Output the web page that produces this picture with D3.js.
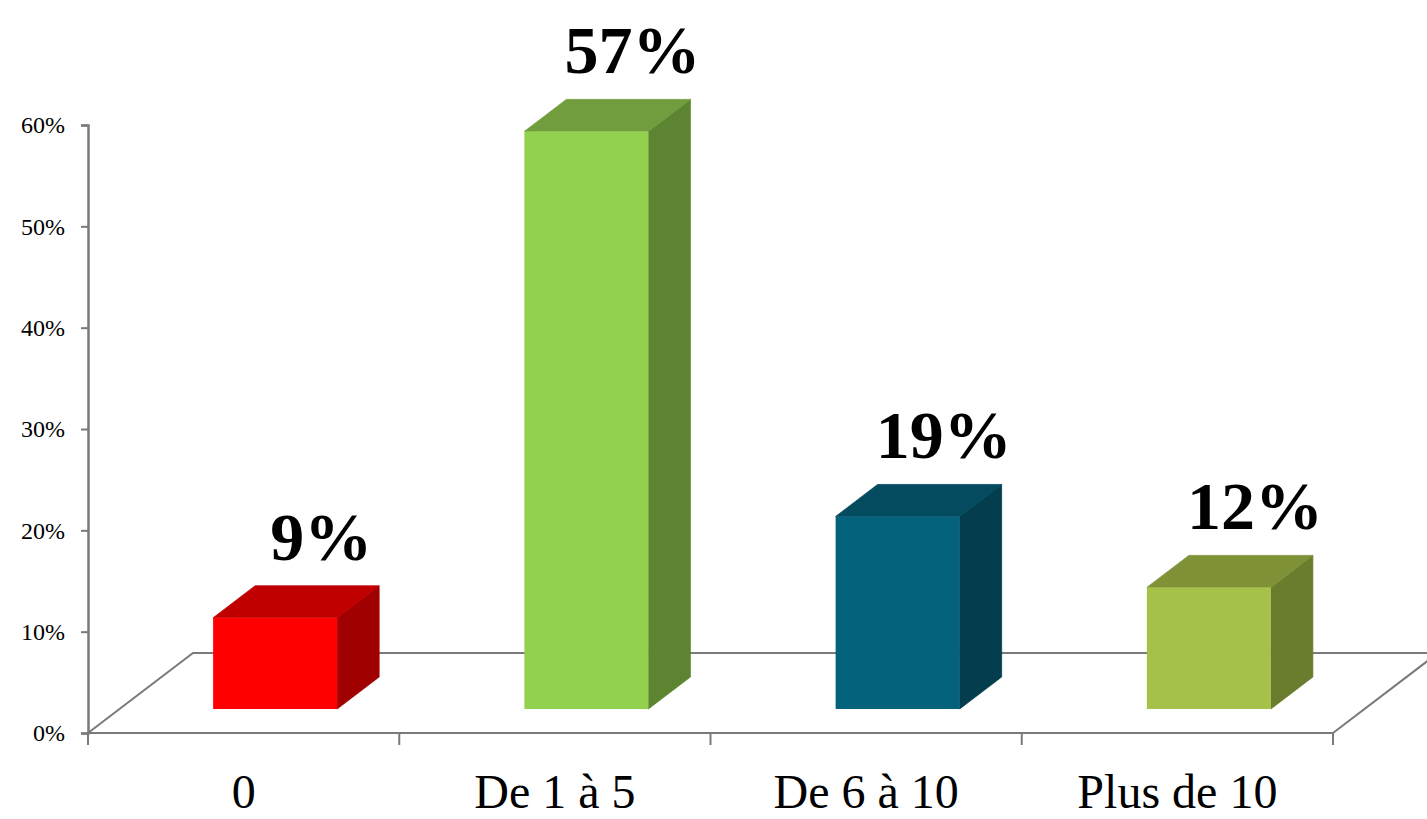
<!DOCTYPE html>
<html>
<head>
<meta charset="utf-8">
<script src="https://cdn.jsdelivr.net/npm/d3@7"></script>
<style>
  html, body { margin: 0; padding: 0; background: #fff; }
  svg { display: block; }
  text { font-family: "Liberation Serif", "Times New Roman", serif; fill: #000; }
</style>
</head>
<body>
<svg id="chart" width="1427" height="819"></svg>
<script>
const categories = ["0", "De 1 à 5", "De 6 à 10", "Plus de 10"];
const values = [0.09, 0.57, 0.19, 0.12];
const valueLabels = ["9%", "57%", "19%", "12%"];
const yTicks = [0, 0.1, 0.2, 0.3, 0.4, 0.5, 0.6];
const frontColors = ["#ff0000", "#92d050", "#05627c", "#a6c14a"];
const topColors = ["#c00000", "#719d3e", "#054b5f", "#7f9238"];
const sideColors = ["#a00000", "#5d8531", "#043e4e", "#6a7c2e"];

const W = 1427, H = 819;
const svg = d3.select("#chart");

const x0 = 88, x1 = 1333, yBase = 733, yTop = 125;
const depthX = 105, depthY = -80;       // full floor depth
const barFront = 0.3, barDepth = 0.4;   // bar placed mid-depth

const y = d3.scaleLinear().domain([0, 0.6]).range([yBase, yTop]);
const x = d3.scaleBand().domain(categories).range([x0, x1])
  .paddingInner(0.6016).paddingOuter(0.3008);
const band = d3.scaleBand().domain(categories).range([x0, x1]);

const axisColor = "#7a7a7a";

// Floor (back and side edges)
const g = svg.append("g");
g.append("path")
  .attr("d", `M${x0},${yBase} L${x0 + depthX},${yBase + depthY} L${x1 + depthX},${yBase + depthY} L${x1},${yBase}`)
  .attr("fill", "none").attr("stroke", axisColor).attr("stroke-width", 2);

// Bars
const fx = depthX * barFront, fy = depthY * barFront;
const dx = depthX * barDepth, dy = depthY * barDepth;
const bw = x.bandwidth();

categories.forEach((c, i) => {
  const L = x(c) + fx, R = L + bw;
  const B = y(0) + fy, T = y(values[i]) + fy;
  // side
  g.append("path")
    .attr("d", `M${R},${T} L${R + dx},${T + dy} L${R + dx},${B + dy} L${R},${B} Z`)
    .attr("fill", sideColors[i]).attr("stroke", sideColors[i]).attr("stroke-width", 0.8);
  // top
  g.append("path")
    .attr("d", `M${L},${T} L${L + dx},${T + dy} L${R + dx},${T + dy} L${R},${T} Z`)
    .attr("fill", topColors[i]).attr("stroke", topColors[i]).attr("stroke-width", 0.8);
  // front
  g.append("rect").attr("x", L).attr("y", T).attr("width", bw).attr("height", B - T)
    .attr("fill", frontColors[i]);
  // value label
  g.append("text")
    .attr("x", L + bw / 2 + dx + 4)
    .attr("y", T + dy - 26)
    .attr("text-anchor", "middle")
    .attr("font-size", 68)
    .attr("font-weight", "bold")
    .text(valueLabels[i]);
});

// Front floor line
g.append("line").attr("x1", x0).attr("x2", x1).attr("y1", yBase).attr("y2", yBase)
  .attr("stroke", axisColor).attr("stroke-width", 2);

// X ticks
const xTickPos = categories.map(c => band(c)).concat([x1]);
g.selectAll(".xt").data(xTickPos).enter().append("line")
  .attr("x1", d => d).attr("x2", d => d).attr("y1", yBase).attr("y2", yBase + 12)
  .attr("stroke", axisColor).attr("stroke-width", 2);

// Category labels
g.selectAll(".xl").data(categories).enter().append("text")
  .attr("x", d => band(d) + band.bandwidth() / 2)
  .attr("y", 808)
  .attr("text-anchor", "middle")
  .attr("font-size", 48)
  .text(d => d);

// Y axis
const yAxis = d3.axisLeft(y).tickValues(yTicks).tickFormat(d3.format(".0%"))
  .tickSize(7).tickPadding(16);
const ya = svg.append("g").attr("transform", `translate(${x0},0)`).call(yAxis);
ya.select(".domain").attr("stroke", axisColor).attr("stroke-width", 2.5);
ya.selectAll(".tick line").attr("stroke", axisColor).attr("stroke-width", 2);
ya.selectAll(".tick text")
  .attr("font-family", "Liberation Serif, serif")
  .attr("font-size", 24).attr("fill", "#000");
</script>
</body>
</html>
